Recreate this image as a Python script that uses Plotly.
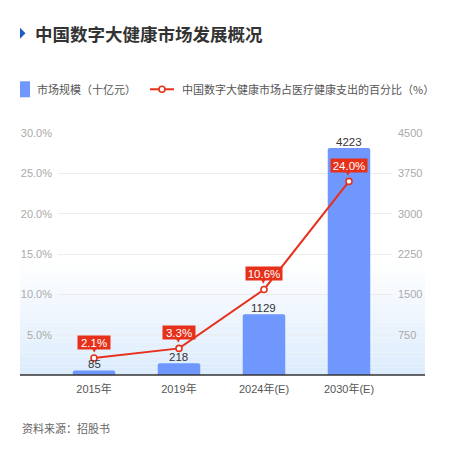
import plotly.graph_objects as go

# data
years = ["2015年", "2019年", "2024年(E)", "2030年(E)"]
market_size = [85, 218, 1129, 4223]          # 十亿元
share_pct = [2.1, 3.3, 10.6, 24.0]          # %
share_labels = ["2.1%", "3.3%", "10.6%", "24.0%"]
left_ticks = [5, 10, 15, 20, 25, 30]
right_ticks = [750, 1500, 2250, 3000, 3750, 4500]

# the page body adds an 8px margin, so the figure is made 8px smaller
OFF = 8
W, H = 452 - OFF, 461 - OFF
L, R = 20, 425           # paper left / right (screen px)
TOP, BOT = 132.7, 374.6  # plot area top / bottom (screen px)

BLUE = "#6f97fd"
RED = "#e6301a"
FONT = "Liberation Sans, Noto Sans CJK SC, sans-serif"
CJK = "Noto Sans CJK SC"


def px(x):
    return (x - L) / (R - L)


def py(y):
    return (BOT - y) / (BOT - TOP)


fig = go.Figure()

fig.add_trace(go.Bar(
    x=years, y=market_size, width=0.5,
    marker=dict(color=BLUE, line=dict(width=0), cornerradius=2),
    yaxis="y", showlegend=False, hoverinfo="x+y",
))

fig.add_trace(go.Scatter(
    x=years, y=share_pct, mode="lines+markers", yaxis="y2",
    line=dict(color=RED, width=2),
    marker=dict(size=6, color="white", line=dict(color=RED, width=1.6)),
    cliponaxis=False, showlegend=False,
))

# bar value labels, sitting just on top of the bars
for yr, v in zip(years, market_size):
    fig.add_annotation(x=yr, y=v, xref="x", yref="y", text=str(v), showarrow=False,
                       font=dict(size=11.5, color="#333", family=FONT),
                       yshift=6, yanchor="middle")

# red value boxes above the points
for yr, v, lab in zip(years, share_pct, share_labels):
    fig.add_annotation(x=yr, y=v, xref="x", yref="y2", text=lab, showarrow=False,
                       font=dict(size=11.5, color="white", family=FONT),
                       bgcolor=RED, width=4 * len(lab) + 16, height=13,
                       borderpad=0, yshift=16, yanchor="middle")
    fig.add_annotation(x=yr, y=v, xref="x", yref="y2", text="▼", showarrow=False,
                       font=dict(size=6, color=RED, family="DejaVu Sans"),
                       yshift=8.5, yanchor="middle")

shapes = []
# light blue gradient at the bottom of the plot area
n = 30
g_top = 262.0
for i in range(n):
    y0 = g_top + (BOT - g_top) * i / n
    y1 = g_top + (BOT - g_top) * (i + 1) / n
    t = (i + 0.5) / n
    r = int(255 + (220 - 255) * t)
    g = int(255 + (236 - 255) * t)
    b = int(255 + (253 - 255) * t)
    shapes.append(dict(type="rect", xref="paper", yref="paper", layer="below",
                       x0=0, x1=1, y0=py(y1), y1=py(y0),
                       fillcolor=f"rgb({r},{g},{b})", line=dict(width=0)))
# baseline
shapes.append(dict(type="line", xref="paper", yref="paper", x0=0, x1=1, y0=0, y1=0,
                   line=dict(color="#333", width=1.5)))
# title marker
shapes.append(dict(type="path", xref="paper", yref="paper",
                   path=f"M {px(20)} {py(27.5)} L {px(25.5)} {py(33)} L {px(20)} {py(38.5)} Z",
                   fillcolor="#1d5bc8", line=dict(width=0)))
# legend symbols
shapes.append(dict(type="rect", xref="paper", yref="paper", x0=px(20), x1=px(30),
                   y0=py(97), y1=py(81), fillcolor=BLUE, line=dict(width=0)))
shapes.append(dict(type="line", xref="paper", yref="paper", x0=px(150), x1=px(174),
                   y0=py(89), y1=py(89), line=dict(color=RED, width=2)))
shapes.append(dict(type="circle", xref="paper", yref="paper", x0=px(159), x1=px(165),
                   y0=py(92), y1=py(86), fillcolor="white", line=dict(color=RED, width=1.6)))

texts = [
    (33, 33, "<b>中国数字大健康市场发展概况</b>", 17.5, "#333"),
    (35, 89, "市场规模（十亿元）", 11, "#555"),
    (180, 89, "中国数字大健康市场占医疗健康支出的百分比（%）", 11, "#555"),
    (20, 428, "资料来源：招股书", 11, "#666"),
]
for x, y, txt, size, col in texts:
    fig.add_annotation(x=px(x), y=py(y), xref="paper", yref="paper",
                       xanchor="left", yanchor="middle", text=txt, showarrow=False,
                       font=dict(size=size, color=col, family=CJK))

fig.update_layout(
    width=W, height=H,
    margin=dict(l=L - OFF, r=452 - R, t=TOP - OFF, b=461 - BOT, pad=0),
    paper_bgcolor="white", plot_bgcolor="rgba(0,0,0,0)",
    font=dict(family=FONT),
    shapes=shapes,
    xaxis=dict(type="category", domain=[px(58), px(392)],
               range=[-0.4235, 3.506], showgrid=False, showline=False,
               zeroline=False, ticks="", ticklabelstandoff=6,
               tickfont=dict(size=11, color="#555")),
    yaxis=dict(range=[0, 4500], tickvals=right_ticks, side="right",
               showgrid=True, gridcolor="#ececec", gridwidth=1,
               zeroline=False, showline=False, ticks="", ticklabelstandoff=5,
               tickfont=dict(size=11, color="#aaa")),
    yaxis2=dict(range=[0, 30], tickvals=left_ticks,
                ticktext=[f"{v:.1f}%" for v in left_ticks],
                overlaying="y", side="left", showgrid=False, zeroline=False,
                showline=False, ticks="", ticklabelstandoff=5,
                tickfont=dict(size=11, color="#aaa")),
    bargap=0.5,
)

fig.write_html("out.html")
